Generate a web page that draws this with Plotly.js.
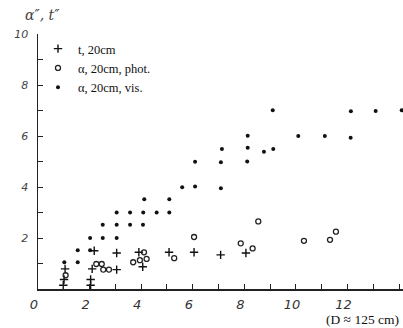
<!DOCTYPE html>
<html><head><meta charset="utf-8">
<script src="https://cdn.plot.ly/plotly-3.0.1.min.js"></script>
<style>html,body{margin:0;padding:0;background:#fff}#chart{width:403px;height:328px}</style>
</head><body><div id="chart"></div>
<script>
// t, 20cm  (crosses)
const tX = [0.98, 1.01, 1.05, 2.04, 2.04, 2.10, 2.18, 3.05, 3.05, 3.91, 4.06, 5.08, 6.05, 7.08, 8.06];
const tY = [0.15, 0.37, 0.79, 0.15, 0.37, 0.79, 1.50, 0.76, 1.41, 1.44, 0.87, 1.44, 1.44, 1.34, 1.41];
// alpha, 20cm, phot. (open circles)
const phX = [1.07, 2.26, 2.47, 2.53, 2.75, 3.69, 3.95, 4.21, 4.11, 5.28, 6.05, 7.86, 8.32, 8.54, 10.31, 11.32, 11.55];
const phY = [0.54, 0.98, 0.98, 0.76, 0.76, 1.05, 1.13, 1.18, 1.44, 1.21, 2.04, 1.79, 1.59, 2.65, 1.89, 1.93, 2.25];
// alpha, 20cm, vis. (dots)
const visX = [1.02, 1.54, 1.54, 2.02, 2.02, 2.51, 3.05, 2.51, 3.05, 3.57, 4.07, 3.05, 3.57, 4.08, 4.60, 5.09, 4.12, 5.09, 5.59, 6.09, 7.09, 6.09, 7.09, 8.11, 7.13, 8.13, 8.76, 9.12, 8.13, 10.09, 11.12, 12.12, 9.10, 12.13, 13.09, 14.10];
const visY = [1.05, 1.05, 1.52, 1.52, 2.00, 2.00, 2.00, 2.52, 2.52, 2.52, 2.52, 3.00, 3.00, 3.00, 3.00, 3.00, 3.52, 3.52, 3.99, 4.02, 3.95, 4.99, 4.97, 5.00, 5.49, 5.54, 5.38, 5.49, 6.01, 6.00, 6.00, 5.93, 7.01, 6.97, 6.98, 7.01];
const seriesNames = ['t, 20cm', 'α, 20cm, phot.', 'α, 20cm, vis.'];
const xTickVals = [0,1,2,3,4,5,6,7,8,9,10,11,12,13,14];
const xTickText = ['0','','2','','4','','6','','8','','10','','12','',''];
const yTickVals = [0,1,2,3,4,5,6,7,8,9,10];
const yTickText = ['','','2','','4','','6','','8','','10'];

const traces = [
  {x: tX, y: tY, name: seriesNames[0], mode: 'markers', type: 'scatter',
   marker: {symbol: 'cross-thin-open', size: 6, color: '#111', line: {width: 1.4, color: '#111'}}},
  {x: phX, y: phY, name: seriesNames[1], mode: 'markers', type: 'scatter',
   marker: {symbol: 'circle-open', size: 5, color: '#222', line: {width: 1.3, color: '#222'}}},
  {x: visX, y: visY, name: seriesNames[2], mode: 'markers', type: 'scatter',
   marker: {symbol: 'circle', size: 4, color: '#111'}}
];

const layout = {
  width: 403, height: 328,
  margin: {l: 38, r: 0, t: 33.5, b: 38.5, pad: 0},
  paper_bgcolor: '#fff', plot_bgcolor: '#fff',
  showlegend: true,
  legend: {x: 0.0, y: 1.0, xanchor: 'left', yanchor: 'top', bgcolor: 'rgba(0,0,0,0)',
           font: {family: 'Liberation Serif', size: 12.5, color: '#111'}, itemwidth: 30, tracegroupgap: 0},
  xaxis: {range: [0, 14.15], showgrid: false, zeroline: false, showline: true, linecolor: '#222', linewidth: 1.5,
          ticks: 'inside', ticklen: 5, tickwidth: 1, tickcolor: '#222', tickmode: 'array',
          tickvals: xTickVals, ticktext: xTickText, ticklabelshift: -4, ticklabelstandoff: 3,
          tickfont: {family: 'DejaVu Sans', size: 13, color: '#333', style: 'italic'}},
  yaxis: {range: [0, 10], showgrid: false, zeroline: false, showline: true, linecolor: '#222', linewidth: 1.5,
          ticks: 'inside', ticklen: 5, tickwidth: 1, tickcolor: '#222', tickmode: 'array',
          tickvals: yTickVals, ticktext: yTickText, ticklabelstandoff: 6,
          tickfont: {family: 'DejaVu Sans', size: 11, color: '#444', style: 'italic'}},
  annotations: [
    {text: 'α″, t″', xref: 'paper', yref: 'paper', x: 0.066, y: 1.076, xanchor: 'right', yanchor: 'middle',
     showarrow: false, font: {family: 'DejaVu Serif', size: 14, color: '#444', style: 'italic'}},
    {text: '(D ≈ 125 cm)', xref: 'paper', yref: 'paper', x: 0.995, y: -0.118, xanchor: 'right', yanchor: 'middle',
     showarrow: false, font: {family: 'Liberation Serif', size: 13.5, color: '#111'}}
  ]
};
Plotly.newPlot('chart', traces, layout, {displayModeBar: false, staticPlot: true});
</script></body></html>
